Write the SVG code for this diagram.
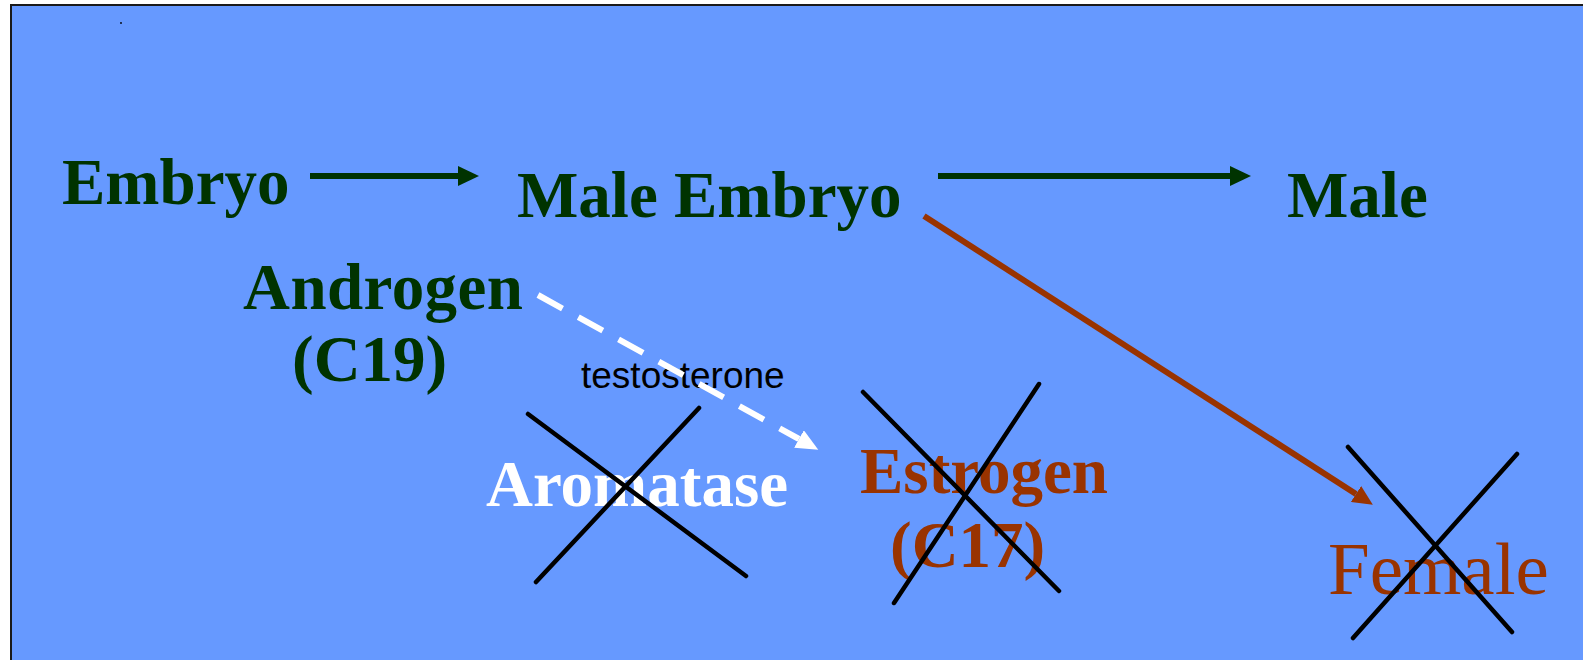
<svg xmlns="http://www.w3.org/2000/svg" width="1583" height="660" viewBox="0 0 1583 660">
  <style>
    .g { font-family: "Liberation Serif", "Times New Roman", serif; font-weight: bold; font-size: 65px; fill: #003300; }
    .r { font-family: "Liberation Serif", "Times New Roman", serif; font-weight: bold; font-size: 65px; fill: #993300; }
    .w { font-family: "Liberation Serif", "Times New Roman", serif; font-weight: bold; font-size: 65px; fill: #ffffff; }
    .fem { font-family: "Liberation Serif", "Times New Roman", serif; font-size: 75px; fill: #993300; }
    .lbl { font-family: "Liberation Sans", Arial, sans-serif; font-size: 37px; fill: #000000; }
    .x { stroke: #000000; stroke-width: 4.5; stroke-linecap: round; fill: none; }
    .ga { stroke: #003300; stroke-width: 6; fill: none; }
  </style>
  <defs>
    <marker id="hg" markerUnits="userSpaceOnUse" markerWidth="22" markerHeight="20" refX="0" refY="10" orient="auto">
      <path d="M0,0 L21,10 L0,20 z" fill="#003300"/>
    </marker>
    <marker id="hr" markerUnits="userSpaceOnUse" markerWidth="21" markerHeight="19" refX="0" refY="9.5" orient="auto">
      <path d="M0,0 L20,9.5 L0,19 z" fill="#993300"/>
    </marker>
    <marker id="hw" markerUnits="userSpaceOnUse" markerWidth="23" markerHeight="20" refX="0" refY="10" orient="auto">
      <path d="M0,0 L22,10 L0,20 z" fill="#ffffff"/>
    </marker>
  </defs>
  <rect x="0" y="0" width="1583" height="660" fill="#ffffff"/>
  <rect x="11" y="5" width="1590" height="670" fill="#6699ff" stroke="#1a1a1a" stroke-width="2"/>
  <circle cx="121" cy="23" r="0.9" fill="#000000"/>

  <g id="embryo"><text class="g" x="62" y="204">Embryo</text></g>
  <g id="male-embryo"><text class="g" x="517" y="217">Male Embryo</text></g>
  <g id="male"><text class="g" x="1287" y="217">Male</text></g>
  <g id="androgen">
    <text class="g" x="243" y="309" textLength="280">Androgen</text>
    <text class="g" x="292" y="381">(C19)</text>
  </g>
  <g id="testosterone-label"><text class="lbl" x="581" y="388">testosterone</text></g>
  <g id="aromatase">
    <text class="w" x="486" y="506">Aromatase</text>
    <line class="x" x1="528" y1="414" x2="746" y2="576"/>
    <line class="x" x1="699" y1="408" x2="536" y2="582"/>
  </g>
  <g id="estrogen">
    <text class="r" x="860" y="493">Estrogen</text>
    <text class="r" x="890" y="567">(C17)</text>
    <line class="x" x1="863" y1="392" x2="1059" y2="591"/>
    <line class="x" x1="1039" y1="384" x2="894" y2="603"/>
  </g>
  <g id="female">
    <text class="fem" x="1328" y="594">Female</text>
    <line class="x" x1="1348" y1="447" x2="1512" y2="632"/>
    <line class="x" x1="1517" y1="454" x2="1353" y2="638"/>
  </g>

  <g id="connectors">
    <line class="ga" x1="310" y1="176" x2="458" y2="176" marker-end="url(#hg)"/>
    <line class="ga" x1="938" y1="176" x2="1230" y2="176" marker-end="url(#hg)"/>
    <line x1="924" y1="216" x2="1356" y2="494" stroke="#993300" stroke-width="6" marker-end="url(#hr)"/>
    <line x1="538" y1="295" x2="799" y2="439" stroke="#ffffff" stroke-width="6" stroke-dasharray="28 18" marker-end="url(#hw)"/>
  </g>
</svg>
